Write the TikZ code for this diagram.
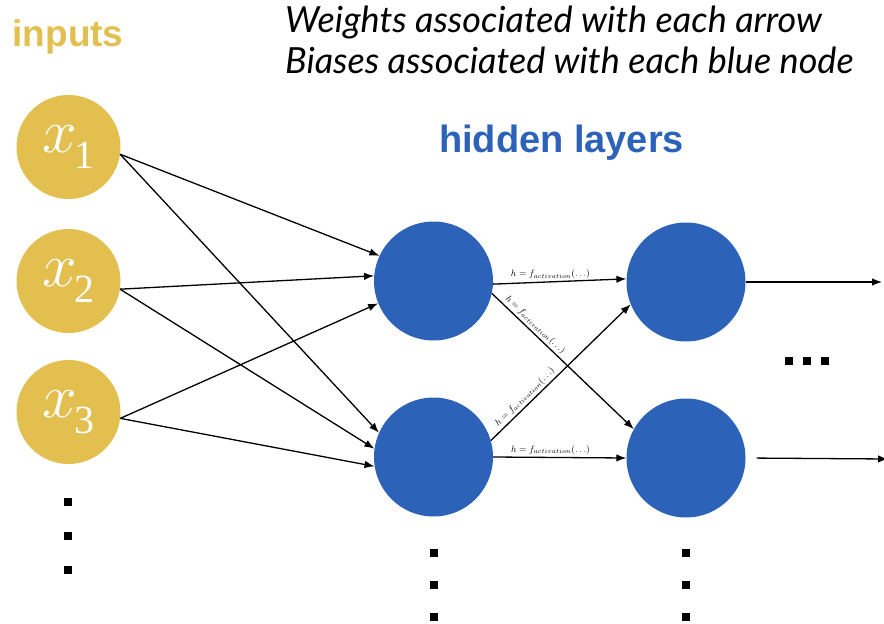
\RequirePackage{fix-cm}
\documentclass[tikz,border=0pt]{standalone}
\usepackage{fontspec}
\setsansfont{Liberation Sans}
\newfontfamily\latofont{Lato}
\newfontfamily\timesfont{Liberation Serif}
\usetikzlibrary{arrows.meta}
\definecolor{inyellow}{HTML}{E2BF4F}
\definecolor{hidblue}{HTML}{2C63B8}
\newcommand{\xlab}[1]{{\fontsize{62}{62}\selectfont$x$\kern-2pt\raisebox{-16pt}{\timesfont\fontsize{40}{40}\selectfont #1}}}
\newcommand{\actlab}{$h = f_{activation}(\ldots)$}
\begin{document}
\begin{tikzpicture}[x=1pt,y=-1pt,
  innode/.style={circle,fill=inyellow,minimum size=104pt,inner sep=0pt,text=white},
  hidnode/.style={circle,fill=hidblue,minimum size=119pt,inner sep=0pt},
  conn/.style={line width=1.3pt,-{Latex[length=10pt,width=7.5pt]}},
  act/.style={font=\fontsize{9.2}{9.2}\selectfont,inner sep=2pt},
  notefont/.style={font=\latofont\itshape\fontsize{36}{36}\selectfont,anchor=base west,inner sep=0pt},
  sq/.style={fill=black,minimum size=7.5pt,inner sep=0pt}]
\useasboundingbox (0,0) rectangle (884,624);
\fill[white] (0,0) rectangle (884,624);
% titles
\node[font=\sffamily\bfseries\fontsize{37}{37}\selectfont,text=inyellow,anchor=base] (tin) at (68,46) {inputs};
\node[font=\sffamily\bfseries\fontsize{38}{38}\selectfont,text=hidblue,anchor=base] (thid) at (561.5,152) {hidden layers};
\node[notefont] (tw1) at (285,32) {Weights associated with each arrow};
\node[notefont] (tw2) at (285,73) {Biases associated with each blue node};
% nodes
\node[innode] (x1) at (68.5,147) {\xlab{1}};
\node[innode] (x2) at (68.5,281) {\xlab{2}};
\node[innode] (x3) at (68.5,412) {\xlab{3}};
\node[hidnode] (a1) at (433.5,281) {};
\node[hidnode] (a2) at (433.5,457) {};
\node[hidnode] (b1) at (686,282) {};
\node[hidnode] (b2) at (686,458) {};
\coordinate (o1) at (882,282);
\coordinate (o2) at (888,459);
% input connections
\draw[conn] (x1.352) -- (a1.155);
\draw[conn] (x2.351) -- (a1.175);
\draw[conn] (x3.353) -- (a1.202);
\draw[conn] (x1.352) -- (a2.156);
\draw[conn] (x2.351) -- (a2.172);
\draw[conn] (x3.353) -- (a2.189);
% hidden connections
\draw[conn] (a1.357) -- node[act,above,pos=0.43] {\actlab} (b1.177);
\draw[conn] (a2.0) -- node[act,above,pos=0.43] {\actlab} (b2.180);
\draw[conn] (a1.348) -- node[act,above,sloped,pos=0.27] {\actlab} (b2.151);
\draw[conn] (a2.16) -- node[act,above,sloped,pos=0.28] {\actlab} (b1.202);
% outputs
\draw[conn] (b1.0) -- (o1);
\draw[conn,shorten <=11pt] (b2.0) -- (o2);
% dots
\node[sq] (d1) at (68,502) {};
\node[sq] (d2) at (68,536) {};
\node[sq] (d3) at (68,570) {};
\node[sq] (e1) at (434,553) {};
\node[sq] (e2) at (434,585) {};
\node[sq] (e3) at (434,617) {};
\node[sq] (f1) at (686,553) {};
\node[sq] (f2) at (686,585) {};
\node[sq] (f3) at (686,617) {};
\node[sq] (g1) at (789,361) {};
\node[sq] (g2) at (807,361) {};
\node[sq] (g3) at (825,361) {};
\end{tikzpicture}
\end{document}
